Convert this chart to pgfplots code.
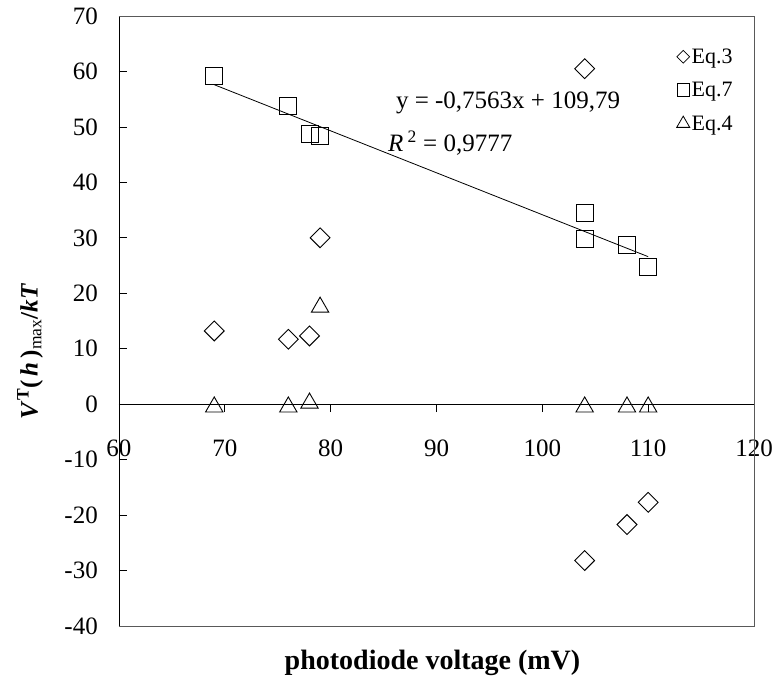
\documentclass[border=0pt]{standalone}
\usepackage{fontspec}
\setmainfont{Liberation Serif}
\usepackage{pgfplots}
\pgfplotsset{compat=1.18}
\begin{document}
\begin{tikzpicture}
\begin{axis}[
  scale only axis, width=635bp, height=610bp,
  xmin=60, xmax=120, ymin=-40, ymax=70,
  axis x line=middle, axis y line=left,
  axis line style={-, black, line width=0.8bp},
  hide obscured x ticks=false, hide obscured y ticks=false,
  xtick={60,70,...,120}, xticklabels={60,70,80,90,100,110,120},
  ytick={-40,-30,...,70}, yticklabels={-40,-30,-20,-10,0,10,20,30,40,50,60,70},
  major tick length=8bp,
  xtick align=outside, ytick align=inside,
  tick style={black, line width=0.8bp},
  xticklabel style={font=\fontsize{25bp}{28bp}\selectfont, inner sep=0pt, anchor=north, yshift=-27bp},
  yticklabel style={font=\fontsize{25bp}{28bp}\selectfont, inner sep=0pt, anchor=east, xshift=-21bp},
  legend style={at={(rel axis cs:0.878,0.95)}, anchor=north west, draw=none, fill=none,
    font=\fontsize{22bp}{25bp}\selectfont, row sep=13.5bp, inner sep=0pt},
  legend cell align=left,
  /tikz/every even column/.append style={column sep=6bp},
  legend image code/.code={\draw[#1] plot coordinates {(0bp,0bp)};},
  clip=false,
]
\coordinate (SW) at (rel axis cs:0,0);
\draw[gray!70!black, line width=0.8bp] (rel axis cs:0,1) -- (rel axis cs:1,1) -- (rel axis cs:1,0) -- (rel axis cs:0,0);

% trendline endpoints
\addplot[black, line width=0.8bp, forget plot] coordinates {(69,57.61) (110,26.60)};

% Eq.3 diamonds
\addplot[only marks, mark=square, mark size=7bp, mark options={rotate=45, black, line width=0.9bp, fill=white}, forget plot]
 coordinates {(69,13.2) (76,11.7) (78,12.3) (79,30.0) (104,60.5) (104,-28.2) (108,-21.7) (110,-17.7)};
% Eq.7 squares
\addplot[only marks, mark=square, mark size=8.5bp, mark options={black, line width=0.9bp}, forget plot]
 coordinates {(69,59.1) (76,53.8) (78,48.8) (79,48.4) (104,34.5) (104,29.8) (108,28.8) (110,24.8)};
% Eq.4 triangles
\addplot[only marks, mark=triangle, mark size=10bp, mark options={black, line width=0.9bp}, forget plot]
 coordinates {(69,-0.5) (76,-0.5) (78,0.2) (79,17.5) (104,-0.5) (108,-0.5) (110,-0.5)};

\addlegendimage{only marks, mark=square, mark size=4.5bp, mark options={rotate=45, black, line width=0.8bp}}
\addlegendentry{Eq.3}
\addlegendimage{only marks, mark=square, mark size=6.3bp, mark options={black, line width=0.8bp}}
\addlegendentry{Eq.7}
\addlegendimage{only marks, mark=triangle, mark size=7.5bp, mark options={black, line width=0.8bp}}
\addlegendentry{Eq.4}

\node[font=\fontsize{25bp}{28bp}\selectfont] at (axis cs:96.76,54.3) {y = -0,7563x + 109,79};
\node[font=\fontsize{25bp}{28bp}\selectfont] at (axis cs:91.3,47.1) {\textit{R}\,\textsuperscript{2} = 0,9777};

\node[font=\fontsize{28bp}{32bp}\selectfont\bfseries] at (rel axis cs:0.5,0) [xshift=-4bp, yshift=-37bp] {photodiode voltage (mV)};
\node[xshift=-89bp, rotate=90, font=\fontsize{25bp}{29bp}\selectfont\bfseries] at (rel axis cs:0,0.45)
  {\textit{V}\textsuperscript{T}(\,\textit{h}\,)\textsubscript{\mdseries max}/\textit{kT}};
\end{axis}
\pgfresetboundingbox
\path (SW) ++(-119bp,-51bp) rectangle ++(775bp,677bp);
\end{tikzpicture}
\end{document}
